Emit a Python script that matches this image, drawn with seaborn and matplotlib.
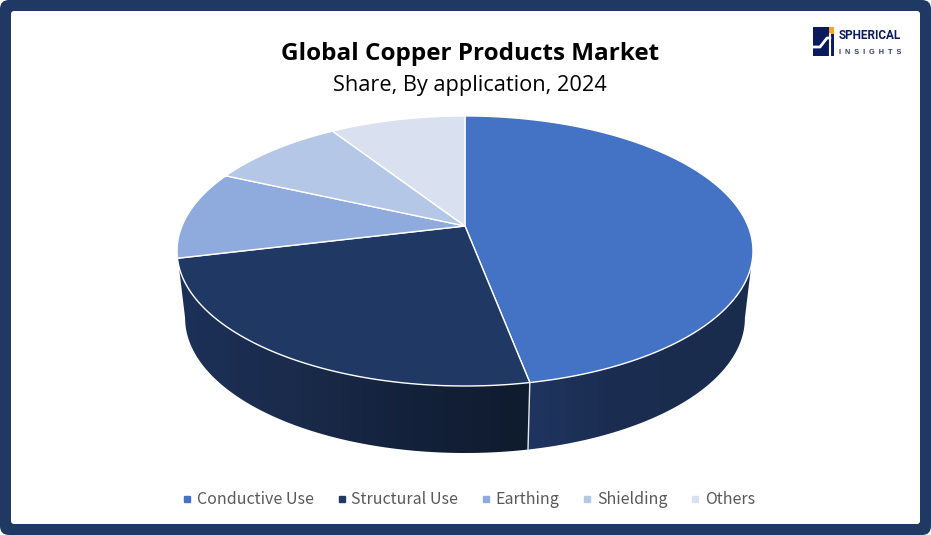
import numpy as np
import matplotlib
matplotlib.use('Agg')
import matplotlib.pyplot as plt
from matplotlib.patches import FancyBboxPatch, Polygon, Rectangle
from matplotlib.lines import Line2D
import seaborn as sns

# chart data
categories = ['Conductive Use', 'Structural Use', 'Earthing', 'Shielding', 'Others']
shares = [47, 24.2, 10.6, 9.1, 9.1]
slice_colors = ['#4472C4', '#1F3864', '#8FAADC', '#B4C7E7', '#D9E1F0']

title = 'Global Copper Products Market'
subtitle = 'Share, By application, 2024'

NAVY = '#1F3864'

sns.set_theme(style='white')
plt.rcParams['font.family'] = ['Open Sans', 'DejaVu Sans']

fig = plt.figure(figsize=(9.31, 5.35), dpi=100)
ax = fig.add_axes([0, 0, 1, 1])
ax.axis('off')

# perspective of the pie disc: apex sits above the centre of the rim ellipse
CX, CY = 465, 226
K = 0.185
A = 130.4
B = 283.0
DEPTH = 67
SHRINK = 0.972


def top_xy(theta):
    u, v = np.sin(theta), np.cos(theta)
    w = 1 + K * v
    return CX + B * u / w, CY - A * v / w


def bottom_xy(theta):
    x, y = top_xy(theta)
    return CX + (x - CX) * SHRINK, y + DEPTH


edges = np.cumsum([0] + shares) / sum(shares) * 2 * np.pi
right_limit = np.pi / 2 + np.arcsin(K)
left_limit = 3 * np.pi / 2 - np.arcsin(K)


def side_wall(start, end, stops):
    th = np.linspace(start, end, 200)
    xt, yt = top_xy(th)
    xb, yb = bottom_xy(th)
    pts = np.r_[np.c_[xt, yt], np.c_[xb, yb][::-1]]
    x0, x1 = pts[:, 0].min(), pts[:, 0].max()
    cmap = sns.blend_palette(stops, as_cmap=True)
    im = ax.imshow(np.linspace(0, 1, 256)[None, :], cmap=cmap, aspect='auto',
                   extent=(x0, x1, pts[:, 1].max(), pts[:, 1].min()), zorder=2)
    im.set_clip_path(Polygon(pts, closed=True, transform=ax.transData))


# stops run left to right on screen
side_wall(right_limit, edges[1], ['#1F3560', '#1B2E52', '#1A2C4E', '#1A2C4E'])
side_wall(edges[1], left_limit, ['#1C3159', '#1A2B4B', '#13213A', '#0F1B2E'])

# seam between the two visible walls
sx, sy = top_xy(edges[1])
bx, by = bottom_xy(edges[1])
ax.plot([sx, bx], [sy, by], color='#E8E8E8', lw=1.0, zorder=3)

# top face of the pie
for start, end, color in zip(edges[:-1], edges[1:], slice_colors):
    th = np.linspace(start, end, 200)
    x, y = top_xy(th)
    ax.fill(np.r_[CX, x], np.r_[CY, y], facecolor=color, edgecolor='white',
            lw=1.0, joinstyle='round', zorder=4)

# frame
ax.add_patch(FancyBboxPatch((4, 4), 923, 527, boxstyle='round,pad=4,rounding_size=9',
                            facecolor=NAVY, edgecolor='none', zorder=0))
ax.add_patch(FancyBboxPatch((13, 13), 905, 509, boxstyle='round,pad=2,rounding_size=3',
                            facecolor='white', edgecolor='none', zorder=1))

# title
ax.text(470, 54, title, ha='center', va='center', fontsize=17.5, fontweight='bold',
        color='black', zorder=6)
ax.text(470, 86, subtitle, ha='center', va='center', fontsize=15.7, color='black', zorder=6)

# logo
ax.add_patch(Rectangle((813, 27), 21, 29, facecolor='#0B1A5C', edgecolor='none', zorder=5))
ax.add_patch(Rectangle((829, 27), 5, 7, facecolor='#F5A623', edgecolor='none', zorder=6))
ax.plot([813, 820, 827, 830], [47, 47, 38, 38], color='white', lw=2, zorder=6)
ax.plot([829.5, 829.5], [34, 56], color='white', lw=1.5, zorder=6)
ax.text(839, 35.5, 'SPHERICAL', ha='left', va='center', fontsize=8.5, fontweight='bold',
        color='#0B1A5C', family=['Roboto', 'DejaVu Sans'], zorder=6)
ax.text(839, 52, 'I  N  S  I  G  H  T  S', ha='left', va='center', fontsize=5.2,
        fontweight='bold', color='#2B3A6B', family=['Liberation Sans', 'DejaVu Sans'], zorder=6)

ax.set_xlim(0, 931)
ax.set_ylim(535, 0)

# legend
handles = [Line2D([], [], linestyle='none', marker='s', markersize=4.6, color=c, label=n)
           for n, c in zip(categories, slice_colors)]
leg = ax.legend(handles=handles, ncol=5, frameon=False, loc='center',
                bbox_to_anchor=(470, 500), bbox_transform=ax.transData,
                prop={'family': ['Noto Sans CJK SC', 'DejaVu Sans'], 'size': 11.5},
                labelcolor='#595959', handlelength=0.3, handletextpad=0.45,
                columnspacing=1.6, borderpad=0, borderaxespad=0)
leg.set_zorder(6)

fig.savefig('out.png', dpi=100)
